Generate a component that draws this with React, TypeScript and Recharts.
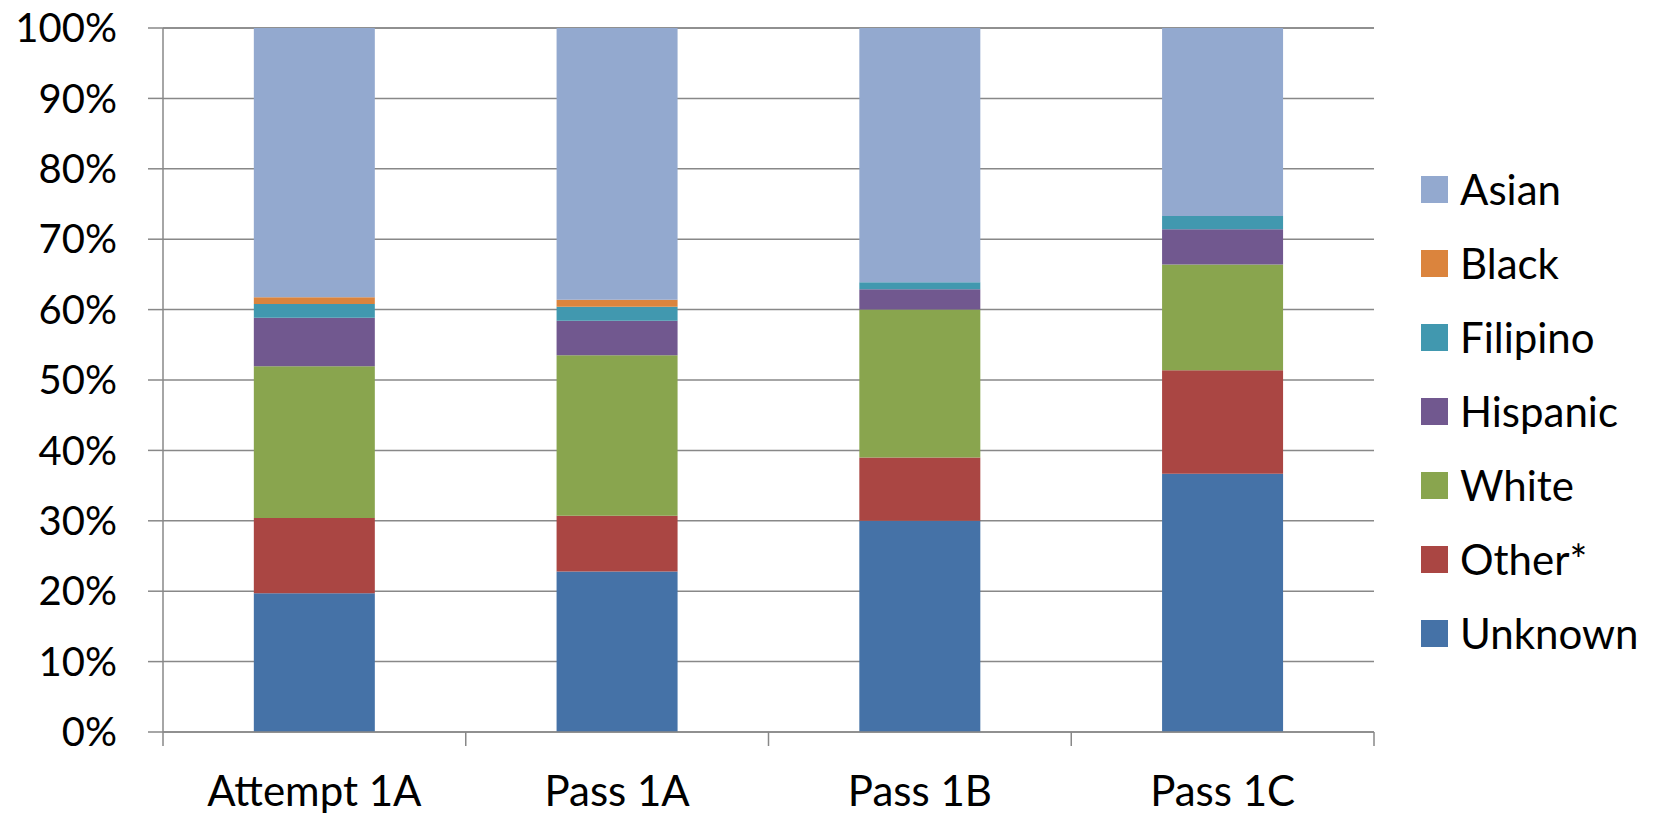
import React from "react";
import { BarChart, Bar, XAxis, YAxis, CartesianGrid, Legend } from "recharts";

const categories = ["Attempt 1A", "Pass 1A", "Pass 1B", "Pass 1C"];
const unknownVals = [19.7, 22.8, 30.0, 36.7];
const otherVals = [10.7, 7.9, 9.0, 14.7];
const whiteVals = [21.55, 22.8, 21.0, 15.0];
const hispanicVals = [6.9, 4.9, 2.9, 5.0];
const filipinoVals = [1.95, 2.0, 1.0, 1.9];
const blackVals = [0.95, 1.0, 0, 0];
const asianVals = [38.25, 38.6, 36.1, 26.7];
const yTicks = [0, 10, 20, 30, 40, 50, 60, 70, 80, 90, 100];

const series = [
  { key: "Unknown", values: unknownVals, color: "#4572A7" },
  { key: "Other*", values: otherVals, color: "#AA4643" },
  { key: "White", values: whiteVals, color: "#89A54E" },
  { key: "Hispanic", values: hispanicVals, color: "#71588F" },
  { key: "Filipino", values: filipinoVals, color: "#4198AF" },
  { key: "Black", values: blackVals, color: "#DB843D" },
  { key: "Asian", values: asianVals, color: "#93A9CF" },
];

const data = categories.map((c, i) => {
  const row: Record<string, any> = { name: c };
  series.forEach((s) => {
    row[s.key] = s.values[i];
  });
  return row;
});

const FONT = "Lato, 'Open Sans', sans-serif";
const AXIS_COLOR = "#888888";
const X_TICK_SIZE = 14;
const X_TICK_MARGIN = 30;

const renderLegend = (props: any) => {
  const payload = [...(props.payload || [])];
  const order = series.map((s) => s.key);
  payload.sort((a: any, b: any) => order.indexOf(b.value) - order.indexOf(a.value));
  return (
    <div style={{ fontFamily: FONT, fontSize: 42, color: "#000" }}>
      {payload.map((p: any) => (
        <div key={p.value} style={{ height: 74, display: "flex", alignItems: "center" }}>
          <div style={{ width: 27, height: 27, background: p.color, marginRight: 12 }} />
          <span>{p.value}</span>
        </div>
      ))}
    </div>
  );
};

const XTick = (props: any) => {
  const { x, y, payload, width, visibleTicksCount, index } = props;
  const half = width / (visibleTicksCount || 4) / 2;
  const axisY = y - X_TICK_SIZE - X_TICK_MARGIN;
  const isLast = index === (visibleTicksCount || 4) - 1;
  return (
    <g>
      <line x1={x - half} x2={x - half} y1={axisY} y2={axisY + X_TICK_SIZE} stroke={AXIS_COLOR} strokeWidth={1.5} />
      {isLast && (
        <line x1={x + half} x2={x + half} y1={axisY} y2={axisY + X_TICK_SIZE} stroke={AXIS_COLOR} strokeWidth={1.5} />
      )}
      <text
        x={x}
        y={y}
        dy="0.71em"
        textAnchor="middle"
        fill="#000"
        fontSize={42}
        fontFamily={FONT}
      >
        {payload.value}
      </text>
    </g>
  );
};

export default function App() {
  return (
    <div style={{ position: "absolute", left: 0, top: 0, width: 1663, height: 816, background: "#fff" }}>
      <BarChart
        width={1663}
        height={816}
        data={data}
        margin={{ top: 28, right: 289, bottom: 0, left: 0 }}
        barCategoryGap="30%"
      >
        <CartesianGrid vertical={false} stroke={AXIS_COLOR} strokeWidth={1.5} />
        <XAxis
          dataKey="name"
          height={84}
          tickSize={X_TICK_SIZE}
          tickMargin={X_TICK_MARGIN}
          tickLine={false}
          stroke={AXIS_COLOR}
          strokeWidth={1.5}
          tick={<XTick />}
          interval={0}
        />
        <YAxis
          width={163}
          domain={[0, 100]}
          ticks={yTicks}
          tickFormatter={(v: number) => `${v}%`}
          tickSize={15}
          tickMargin={31}
          stroke={AXIS_COLOR}
          strokeWidth={1.5}
          tick={{ fill: "#000", fontSize: 40, fontFamily: FONT }}
          interval={0}
        />
        <Legend
          layout="vertical"
          align="center"
          verticalAlign="middle"
          content={renderLegend}
          wrapperStyle={{ left: 1421, top: 152, width: 240 }}
        />
        {series.map((s) => (
          <Bar key={s.key} dataKey={s.key} stackId="a" fill={s.color} isAnimationActive={false} />
        ))}
      </BarChart>
    </div>
  );
}
